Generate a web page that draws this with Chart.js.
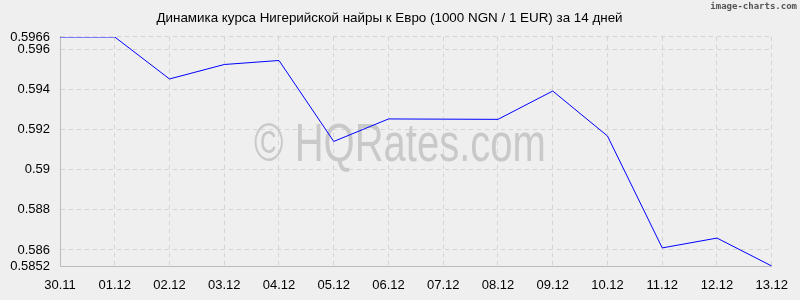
<!DOCTYPE html>
<html>
<head>
<meta charset="utf-8">
<script src="https://cdn.jsdelivr.net/npm/chart.js@4"></script>
<style>
  html, body { margin: 0; padding: 0; background: #efefef; }
  #wrap { width: 800px; height: 300px; }
</style>
</head>
<body>
<div id="wrap"><canvas id="myChart" width="800" height="300"></canvas></div>
<script>
'use strict';

// data
const dayLabels = ['30.11', '01.12', '02.12', '03.12', '04.12', '05.12', '06.12',
  '07.12', '08.12', '09.12', '10.12', '11.12', '12.12', '13.12'];
const rateValues = [0.5966, 0.5966, 0.59451, 0.59523, 0.59543, 0.5914, 0.59252,
  0.59251, 0.5925, 0.59391, 0.59167, 0.5861, 0.58659, 0.5852];
const yTickValues = [0.5852, 0.586, 0.588, 0.59, 0.592, 0.594, 0.596, 0.5966];
const titleText = 'Динамика курса Нигерийской найры к Евро (1000 NGN / 1 EUR) за 14 дней';

const bgPlugin = {
  id: 'bgPlugin',
  beforeDraw(chart) {
    const ctx = chart.ctx;
    ctx.save();
    ctx.fillStyle = '#efefef';
    ctx.fillRect(0, 0, chart.width, chart.height);
    ctx.restore();
  },
  beforeDatasetsDraw(chart) {
    const ctx = chart.ctx;
    ctx.save();
    // big watermark
    ctx.translate(400, 161);
    ctx.scale(1, 1.36);
    ctx.font = '40px "Liberation Sans", Arial, sans-serif';
    ctx.fillStyle = '#c9c9c9';
    ctx.textAlign = 'center';
    ctx.textBaseline = 'alphabetic';
    ctx.fillText('© HQRates.com', 0, 0);
    ctx.restore();

    ctx.save();
    ctx.font = 'bold 9px "DejaVu Sans Mono", monospace';
    ctx.fillStyle = '#555';
    ctx.textAlign = 'right';
    ctx.textBaseline = 'middle';
    ctx.fillText('image-charts.com', 797, 7);
    ctx.restore();
  }
};

const data = {
  labels: dayLabels,
  datasets: [{
    data: rateValues,
    borderColor: '#0000ff',
    borderWidth: 1,
    pointRadius: 0,
    tension: 0,
    fill: false
  }]
};

const config = {
  type: 'line',
  data: data,
  plugins: [bgPlugin],
  options: {
    responsive: false,
    animation: false,
    layout: { padding: { left: 0, right: 21, top: 0, bottom: 0 } },
    plugins: {
      legend: { display: false },
      tooltip: { enabled: false },
      title: {
        display: true,
        text: titleText,
        color: '#000',
        font: { family: '"Liberation Sans", Arial, sans-serif', size: 13.4, weight: 'normal', lineHeight: 1.2 },
        padding: { top: 10, bottom: 10.9 }
      }
    },
    scales: {
      x: {
        offset: false,
        afterFit(scale) { scale.height = 34; },
        grid: { color: '#d4d4d4', drawTicks: false },
        border: { color: '#bbbbbb', dash: [4, 4] },
        ticks: {
          color: '#000',
          padding: 12,
          autoSkip: false,
          maxRotation: 0,
          font: { family: '"Liberation Sans", Arial, sans-serif', size: 13 }
        }
      },
      y: {
        min: 0.5852,
        max: 0.5966,
        afterFit(scale) { scale.width = 60; },
        afterBuildTicks(scale) {
          scale.ticks = yTickValues.map(v => ({ value: v }));
        },
        grid: { color: '#d4d4d4', drawTicks: false },
        border: { color: '#bbbbbb', dash: [4, 4] },
        ticks: {
          color: '#000',
          padding: 10,
          autoSkip: false,
          font: { family: '"Liberation Sans", Arial, sans-serif', size: 13 },
          callback: v => String(Number(v.toFixed(4)))
        }
      }
    }
  }
};

// dashed gridlines
config.options.scales.x.grid.borderDash = [4, 4];
config.options.scales.y.grid.borderDash = [4, 4];

const chart = document.getElementById('myChart');
const myChart = new Chart(chart, config);
</script>
</body>
</html>
